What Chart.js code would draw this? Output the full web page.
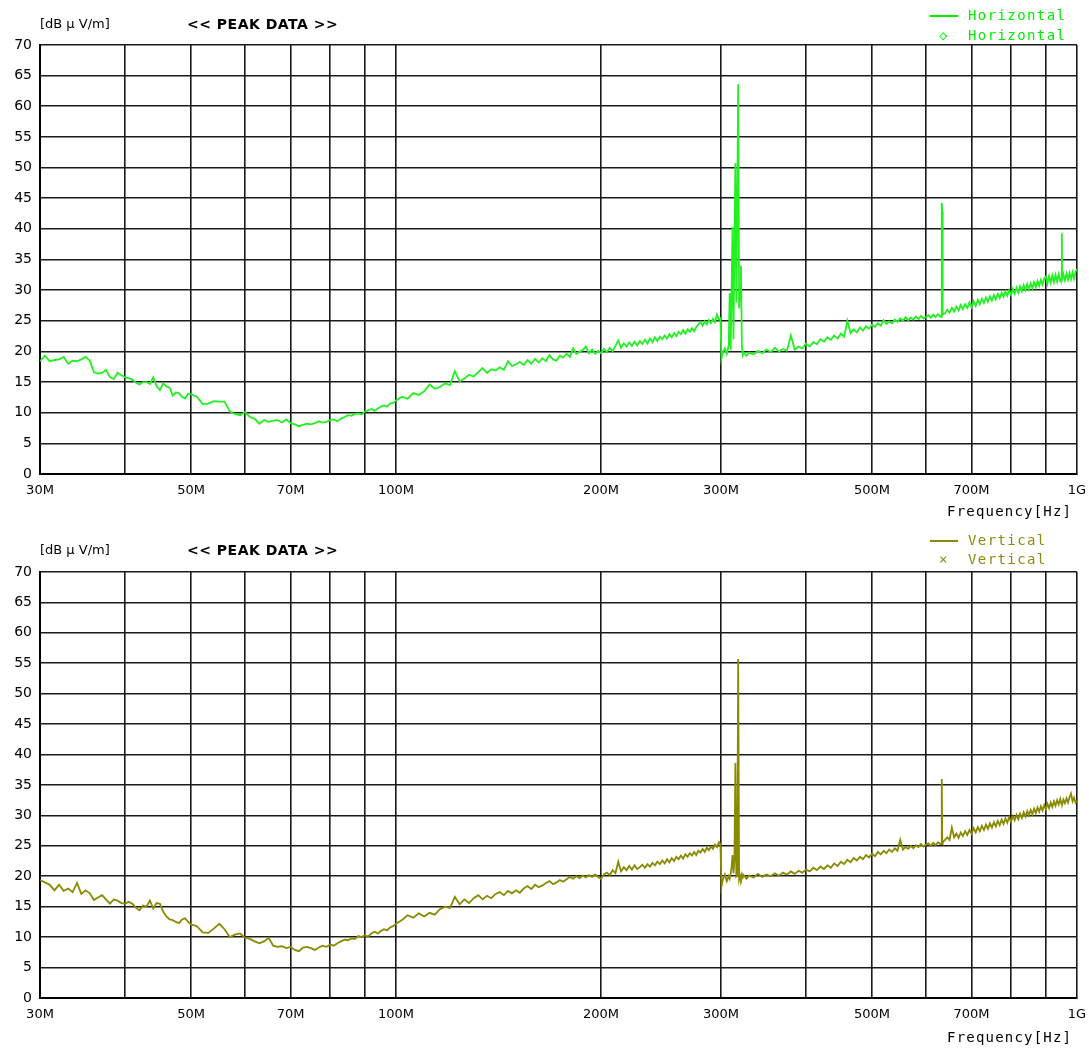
<!DOCTYPE html>
<html>
<head>
<meta charset="utf-8">
<script src="https://cdn.jsdelivr.net/npm/chart.js@4.4.1/dist/chart.umd.min.js"></script>
<style>
  html, body { margin:0; padding:0; background:#fff; }
  #wrap { position:relative; width:1089px; height:1050px; overflow:hidden; font-family:"DejaVu Sans", sans-serif; }
  canvas { position:absolute; left:0; }
  .unit { position:absolute; font-size:13px; color:#000; }
  .title { position:absolute; font-size:14px; font-weight:bold; color:#000; letter-spacing:0.5px; }
  .leg { position:absolute; font-family:"DejaVu Sans Mono", monospace; font-size:14px; letter-spacing:1.4px; white-space:pre; }
  .freq { position:absolute; font-family:"DejaVu Sans Mono", monospace; font-size:14px; color:#000; letter-spacing:1.2px; }
  .sym { display:inline-block; width:30px; text-align:center; margin-right:8px; }
  .ln { display:inline-block; width:28px; height:2px; vertical-align:middle; margin-right:10px; }
</style>
</head>
<body>
<div id="wrap">
  <canvas id="c1" width="1089" height="525" style="top:0px"></canvas>
  <canvas id="c2" width="1089" height="525" style="top:525px"></canvas>

  <div class="unit" style="left:40px; top:16px;">[dB μ V/m]</div>
  <div class="title" style="left:187px; top:16px;">&lt;&lt; PEAK DATA &gt;&gt;</div>
  <div class="leg" style="left:930px; top:7px; color:#00ee00;"><span class="ln" style="background:#00ee00"></span>Horizontal</div>
  <div class="leg" style="left:930px; top:27px; color:#00ee00;"><span class="sym" style="width:28px;margin-right:10px">◇</span>Horizontal</div>
  <div class="freq" style="left:947px; top:503px;">Frequency[Hz]</div>

  <div class="unit" style="left:40px; top:542px;">[dB μ V/m]</div>
  <div class="title" style="left:187px; top:542px;">&lt;&lt; PEAK DATA &gt;&gt;</div>
  <div class="leg" style="left:930px; top:532px; color:#8a8a10;"><span class="ln" style="background:#8a8a10"></span>Vertical</div>
  <div class="leg" style="left:930px; top:551px; color:#8a8a10;"><span class="sym" style="width:28px;margin-right:10px">×</span>Vertical</div>
  <div class="freq" style="left:947px; top:1029px;">Frequency[Hz]</div>
</div>
<script>
// ---- data (frequency in MHz, level in dBμV/m) ----
const freqMHz = [
  30,30.5,31,31.5,32,32.5,33,33.5,34,34.5,
  35,35.5,36,36.5,37,37.5,38,38.5,39,39.5,
  40,40.5,41,41.5,42,42.5,43,43.5,44,44.5,
  45,45.5,46,46.5,47,47.5,48,48.5,49,49.5,
  50,51,52,53,54,55,56,57,58,59,
  60,61,62,63,64,65,66,67,68,69,
  70,71,72,73,74,75,76,77,78,79,
  80,81,82,83,84,85,86,87,88,89,
  90,91,92,93,94,95,96,97,98,99,
  100,102,104,106,108,110,112,114,116,118,
  120,122,124,126,128,130,132,134,136,138,
  140,142,144,146,148,150,152,154,156,158,
  160,162,164,166,168,170,172,174,176,178,
  180,182,184,186,188,190,192,194,196,198,
  200,202,204,206,208,210,212,214,216,218,
  220,222,224,226,228,230,232,234,236,238,
  240,242,244,246,248,250,252,254,256,258,
  260,262,264,266,268,270,272,274,276,278,
  280,282,284,286,288,290,292,294,296,298,
  299.5,300.5,302,304,306,308,309,310,311,312,
  313,314,315,316,317,318,319,320,321,322,
  323,324,327,330,335,340,345,350,355,360,
  365,370,375,380,385,390,395,400,405,410,
  415,420,425,430,435,440,445,450,455,460,
  465,470,475,480,485,490,495,500,505,510,
  515,520,525,530,535,540,545,550,555,560,
  565,570,575,580,585,590,595,600,605,610,
  615,620,625,630,632,633,634,635,640,645,
  650,655,660,665,670,675,680,685,690,695,
  700,705,710,715,720,725,730,735,740,745,
  750,755,760,765,770,775,780,785,790,795,
  800,805,810,815,820,825,830,835,840,845,
  850,855,860,865,870,875,880,885,890,895,
  900,905,910,915,920,925,930,935,940,945,
  949,950,951,955,960,965,970,975,980,985,
  990,995,1000
];

const horizontalPeak = [
  18.4,19.3,18.4,18.6,18.7,19.1,18.0,18.5,18.4,18.7,
  19.1,18.5,16.6,16.4,16.5,17.0,15.8,15.5,16.5,16.1,
  15.8,15.6,15.4,14.9,14.6,15.0,15.0,14.7,15.8,14.3,
  13.7,14.8,14.3,14.1,12.8,13.3,13.2,12.6,12.3,13.1,
  13.0,12.6,11.4,11.5,11.9,11.8,11.8,10.2,9.8,9.6,
  10.1,9.3,9.0,8.2,8.8,8.5,8.7,8.8,8.4,8.9,
  8.3,8.1,7.8,8.0,8.2,8.1,8.3,8.6,8.4,8.5,
  8.8,8.9,8.6,9.0,9.3,9.6,9.5,9.8,9.9,9.7,
  10.2,10.4,10.6,10.3,10.7,11.0,11.2,11.0,11.5,11.6,
  12.0,12.6,12.3,13.2,12.9,13.5,14.6,13.9,14.2,14.8,
  14.5,16.8,15.1,15.6,16.2,15.9,16.6,17.3,16.5,17.1,
  16.9,17.4,17.0,18.4,17.6,17.9,18.3,17.8,18.6,18.0,
  18.8,18.2,18.9,18.4,19.4,18.7,18.5,19.3,19.0,19.6,
  19.1,20.5,19.6,20.0,20.2,20.8,19.7,20.3,19.6,20.1,
  19.7,20.4,19.9,20.6,20.0,20.9,21.8,20.6,21.3,20.8,
  21.5,20.9,21.6,21.0,21.7,21.2,21.9,21.3,22.1,21.5,
  22.3,21.7,22.4,22.0,22.6,22.1,22.8,22.3,23.0,22.5,
  23.2,22.8,23.5,22.9,23.6,23.2,23.8,23.3,24.0,24.4,
  24.8,24.2,24.9,24.4,25.1,24.6,25.3,24.8,26.0,25.2,
  25.4,18.8,19.8,20.5,19.6,21.0,29.5,20.2,30.0,40.3,
  22.0,37.5,50.7,28.0,44.0,63.6,27.0,30.5,34.0,21.0,
  19.4,19.8,19.3,19.8,19.5,20.1,19.7,20.3,19.9,20.6,
  20.0,20.4,20.1,22.6,20.3,20.8,20.5,21.3,20.8,21.5,
  21.2,22.0,21.6,22.3,21.9,22.6,22.1,22.9,22.4,25.0,
  23.0,23.6,23.1,23.9,23.4,24.1,23.7,24.4,24.0,24.6,
  24.2,25.1,24.5,24.9,24.6,25.2,24.8,25.4,25.0,25.6,
  25.1,25.5,25.2,25.7,25.3,25.8,25.4,25.6,25.9,25.5,
  26.0,25.6,26.1,25.7,25.6,44.2,42.8,26.0,26.2,26.8,
  26.3,27.1,26.5,27.3,26.7,27.6,26.9,27.7,27.1,28.0,
  27.2,28.2,27.4,28.4,27.7,28.6,27.9,28.8,28.1,29.0,
  28.3,29.2,28.5,29.4,28.7,29.6,28.9,29.8,29.1,30.0,
  29.2,30.2,29.4,30.4,29.6,30.6,29.8,30.8,30.0,31.0,
  30.1,31.1,30.3,31.3,30.5,31.5,30.7,31.7,30.9,31.9,
  32.2,31.1,32.3,31.2,32.4,31.3,32.5,31.4,32.6,31.5,
  31.9,39.3,31.8,32.6,31.6,32.7,31.7,32.8,31.8,32.9,
  31.9,33.0,33.4
];

const verticalPeak = [
  19.4,19.0,18.6,17.7,18.6,17.6,18.0,17.4,18.9,17.1,
  17.7,17.2,16.1,16.5,16.9,16.2,15.5,16.2,16.0,15.6,
  15.5,15.8,15.5,14.8,14.4,15.2,15.0,16.0,14.7,15.6,
  15.5,14.2,13.4,12.9,12.8,12.5,12.3,12.9,13.1,12.5,
  12.1,11.8,10.8,10.7,11.4,12.2,11.3,10.0,10.4,10.6,
  9.9,9.7,9.3,9.0,9.3,9.9,8.6,8.4,8.5,8.2,
  8.4,7.9,7.7,8.3,8.4,8.2,7.9,8.3,8.6,8.4,
  8.8,8.6,9.0,9.3,9.6,9.5,9.8,9.7,10.2,10.0,
  10.3,10.1,10.6,10.9,10.6,11.0,11.3,11.1,11.6,11.8,
  12.2,12.8,13.6,13.2,13.9,13.4,14.0,13.7,14.6,15.0,
  14.8,16.6,15.4,16.2,15.6,16.4,16.9,16.2,16.8,16.4,
  17.1,17.4,16.9,17.6,17.2,17.7,17.3,18.0,18.4,17.9,
  18.6,18.2,18.5,18.9,19.2,18.7,19.0,19.4,19.1,19.5,
  19.9,19.6,20.0,19.7,20.1,19.8,20.2,19.9,20.3,19.9,
  19.6,20.3,20.6,20.2,21.0,20.5,22.4,20.8,21.5,21.0,
  21.7,21.1,21.8,21.2,21.5,21.9,21.4,22.0,21.6,22.2,
  21.8,22.4,22.0,22.6,22.1,22.8,22.3,23.0,22.5,23.2,
  22.8,23.4,22.9,23.6,23.2,23.8,23.4,24.0,23.5,24.2,
  23.9,24.5,24.0,24.7,24.3,24.9,24.5,25.2,24.8,25.6,
  25.3,18.3,19.5,20.3,19.2,20.0,19.6,20.4,21.5,23.5,
  20.5,22.8,38.6,20.0,20.2,55.7,19.5,20.1,19.6,20.3,
  19.8,20.2,19.6,20.1,19.8,20.4,19.9,20.3,20.0,20.5,
  20.1,20.6,20.3,20.8,20.4,20.9,20.6,21.1,20.8,21.4,
  21.0,21.6,21.2,21.8,21.4,22.1,21.7,22.4,22.0,22.7,
  22.3,23.0,22.6,23.2,22.8,23.5,23.1,23.7,23.3,24.0,
  23.6,24.2,23.8,24.4,24.0,24.6,24.2,26.0,24.4,24.8,
  24.5,25.0,24.6,25.1,24.8,25.3,24.9,25.2,25.4,25.0,
  25.5,25.1,25.6,25.3,25.3,36.0,25.8,25.6,26.0,26.4,
  26.0,28.0,26.4,27.0,26.3,27.2,26.6,27.4,26.8,27.6,
  27.0,27.9,27.2,28.1,27.4,28.3,27.6,28.5,27.8,28.7,
  28.0,28.9,28.2,29.1,28.4,29.3,28.6,29.5,28.8,29.7,
  29.0,29.9,29.2,30.1,29.4,30.3,29.6,30.5,29.8,30.7,
  30.0,30.9,30.2,31.1,30.4,31.3,30.6,31.5,30.8,31.7,
  31.0,31.9,31.2,32.1,31.4,32.3,31.6,32.5,31.8,32.7,
  31.9,32.3,31.8,32.6,32.0,32.8,32.1,33.0,33.6,32.3,
  32.9,32.1,32.4
];

const yMin = 0, yMax = 70, yStep = 5;
const xGridMHz = [30,40,50,60,70,80,90,100,200,300,400,500,600,700,800,900,1000];
const xLabelMHz = [30,50,70,100,200,300,500,700,1000];
const xLabelText = ['30M','50M','70M','100M','200M','300M','500M','700M','1G'];

console.log('lengths', freqMHz.length, horizontalPeak.length, verticalPeak.length);

function buildChart(id, label, values, color, padTop, xHeight) {
  const pts = freqMHz.map((f, i) => ({ x: f, y: values[i] }));
  return new Chart(document.getElementById(id), {
    type: 'line',
    data: { datasets: [{ label, data: pts, borderColor: color, borderWidth: 1.8,
      pointRadius: 0, tension: 0, fill: false }] },
    options: {
      responsive: false, animation: false, devicePixelRatio: 1,
      layout: { padding: { top: padTop, right: 12, left: 0, bottom: 0 } },
      plugins: { legend: { display: false }, tooltip: { enabled: false } },
      scales: {
        x: {
          type: 'logarithmic', min: 30, max: 1000,
          afterBuildTicks: s => { s.ticks = xGridMHz.map(v => ({ value: v })); },
          afterFit: s => { s.height = xHeight; s.paddingLeft = 0; s.paddingRight = 0; },
          grid: { color: '#1a1a1a', lineWidth: 1.6, drawTicks: false },
          border: { color: '#000', width: 2 },
          ticks: {
            autoSkip: false, maxRotation: 0, minRotation: 0, padding: 9,
            color: '#000', font: { family: 'DejaVu Sans', size: 13 },
            callback: v => { const k = xLabelMHz.indexOf(v); return k >= 0 ? xLabelText[k] : ''; }
          }
        },
        y: {
          min: yMin, max: yMax,
          afterFit: s => { s.width = 40; },
          grid: { color: '#1a1a1a', lineWidth: 1.6, drawTicks: false },
          border: { color: '#000', width: 2 },
          ticks: { stepSize: yStep, padding: 8, color: '#000',
            font: { family: 'DejaVu Sans', size: 14 } }
        }
      }
    }
  });
}

buildChart('c1', 'Horizontal', horizontalPeak, '#22f022', 45, 51);
buildChart('c2', 'Vertical', verticalPeak, '#8a8a00', 47, 52);
</script>
</body>
</html>
